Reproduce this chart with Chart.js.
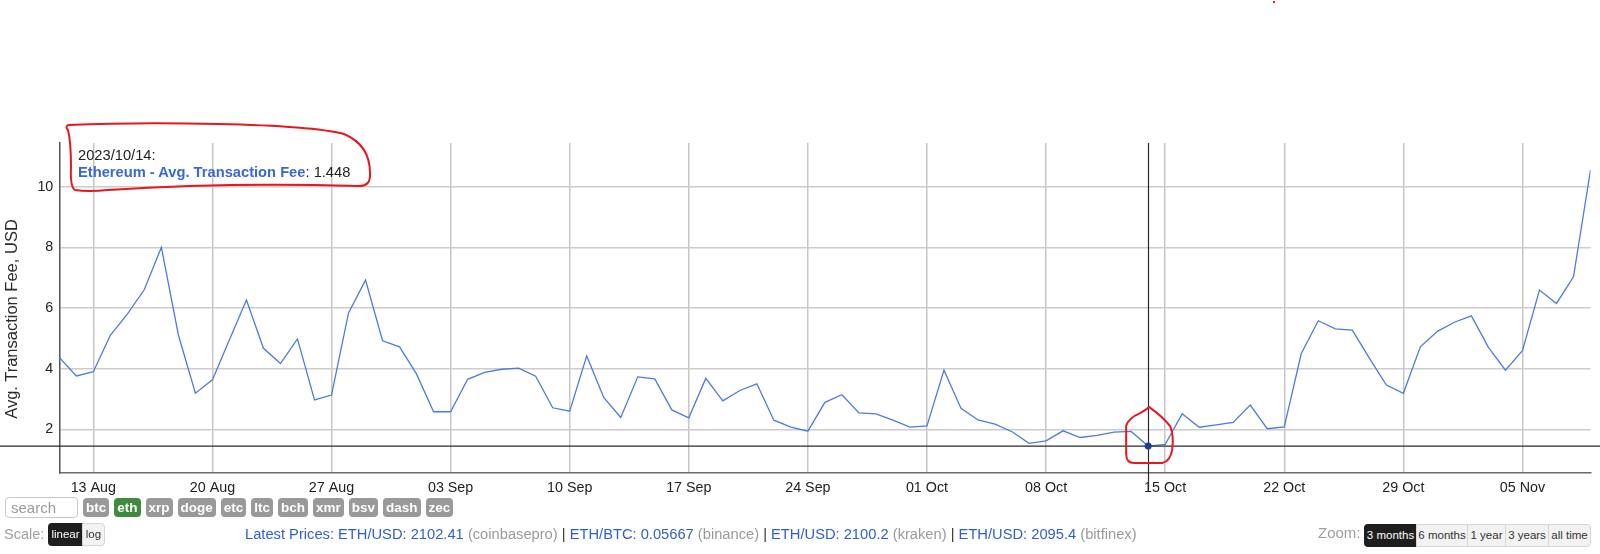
<!DOCTYPE html>
<html>
<head>
<meta charset="utf-8">
<script src="https://cdn.jsdelivr.net/npm/chart.js@4.4.0/dist/chart.umd.min.js"></script>
<style>
html,body{margin:0;padding:0;background:#fff;width:1600px;height:554px;overflow:hidden;font-family:"Liberation Sans",Arial,sans-serif;}
#c{position:absolute;left:0;top:0;}
.abs{position:absolute;white-space:nowrap;}
#legend{left:78px;top:147px;font-size:14.7px;line-height:16.6px;color:#222;}
#legend b{color:#3a68d2;}
#ytitle{left:11px;top:319px;font-size:16.5px;line-height:20px;color:#2a2a2a;transform:translate(-50%,-50%) rotate(-90deg);}
#search{left:5px;top:497px;width:73px;height:21px;box-sizing:border-box;border:1px solid #c8c8c8;border-radius:4px;font-size:15px;color:#9a9a9a;line-height:19px;padding-left:5px;}
#coins{left:83px;top:498px;display:flex;}
.coin{background:#999;color:#fff;font-weight:bold;font-size:13.5px;height:19px;line-height:19px;padding:0 3px;border-radius:4px;margin-right:5px;}
.coin.on{background:#3e8b3e;}
#scaleLbl{left:4px;top:525px;font-size:14.5px;line-height:18px;color:#a0a0a0;}
.btn{position:absolute;top:0;height:100%;font-size:11.5px;text-align:center;box-sizing:border-box;}
#scaleBtns{left:48px;top:523px;width:57px;height:23px;}
#zoomLbl{left:1318px;top:524px;font-size:15px;line-height:18px;color:#a0a0a0;}
#zoomBtns{left:1364px;top:524px;width:227px;height:23px;}
.dark{background:#1e1e1e;color:#fff;border-radius:4px;}
.light{background:#f2f2f2;color:#333;border:1px solid #d6d6d6;}
#prices{left:245px;top:525px;font-size:14.7px;line-height:18px;color:#333;}
#prices .b{color:#2f5fcf;}
#prices .g{color:#9a9a9a;}
</style>
</head>
<body>
<canvas id="c" width="1600" height="554"></canvas>
<div id="legend" class="abs"><span id="lgDate"></span>:<br><b id="lgName"></b>: <span id="lgVal"></span></div>
<div id="ytitle" class="abs"></div>
<div id="search" class="abs">search</div>
<div id="coins" class="abs"><span class="coin">btc</span><span class="coin on">eth</span><span class="coin">xrp</span><span class="coin">doge</span><span class="coin">etc</span><span class="coin">ltc</span><span class="coin">bch</span><span class="coin">xmr</span><span class="coin">bsv</span><span class="coin">dash</span><span class="coin">zec</span></div>
<div id="scaleLbl" class="abs">Scale:</div>
<div id="scaleBtns" class="abs">
  <div class="btn dark" style="left:0;width:35px;line-height:23px;border-radius:4px 0 0 4px;">linear</div>
  <div class="btn light" style="left:34px;width:23px;line-height:21px;border-radius:0 4px 4px 0;">log</div>
</div>
<div id="prices" class="abs"><span class="b">Latest Prices: ETH/USD: 2102.41</span> <span class="g">(coinbasepro)</span> | <span class="b">ETH/BTC: 0.05667</span> <span class="g">(binance)</span> | <span class="b">ETH/USD: 2100.2</span> <span class="g">(kraken)</span> | <span class="b">ETH/USD: 2095.4</span> <span class="g">(bitfinex)</span></div>
<div id="zoomLbl" class="abs">Zoom:</div>
<div id="zoomBtns" class="abs">
  <div class="btn dark" style="left:0;width:53px;line-height:23px;border-radius:4px 0 0 4px;">3 months</div>
  <div class="btn light" style="left:52px;width:52px;line-height:21px;">6 months</div>
  <div class="btn light" style="left:103px;width:39px;line-height:21px;">1 year</div>
  <div class="btn light" style="left:141px;width:44px;line-height:21px;">3 years</div>
  <div class="btn light" style="left:184px;width:43px;line-height:21px;border-radius:0 4px 4px 0;">all time</div>
</div>
<script>
// ---- data ----
const startDate = [2023, 7, 11]; // 2023-08-11 (month 0-based)
const dayCount = 91;
const feeValues = [
  4.37, 3.76, 3.90, 5.10, 5.80, 6.61, 8.00, 5.11, 3.19, 3.63,
  4.95, 6.26, 4.67, 4.17, 4.98, 2.97, 3.13, 5.84, 6.92, 4.92,
  4.72, 3.82, 2.58, 2.58, 3.65, 3.88, 3.98, 4.02, 3.75, 2.71,
  2.60, 4.42, 3.05, 2.39, 3.73, 3.66, 2.64, 2.38, 3.68, 2.94,
  3.28, 3.50, 2.30, 2.07, 1.94, 2.89, 3.14, 2.54, 2.51, 2.30,
  2.07, 2.11, 3.95, 2.69, 2.31, 2.17, 1.92, 1.54, 1.62, 1.95,
  1.73, 1.80, 1.91, 1.93, 1.448, 1.50, 2.51, 2.07, 2.15, 2.23,
  2.80, 2.02, 2.08, 4.50, 5.58, 5.31, 5.27, 4.35, 3.46, 3.19,
  4.72, 5.23, 5.53, 5.74, 4.70, 3.95, 4.59, 6.59, 6.15, 7.03,
  10.55
];
const tickDates = ['2023/08/13','2023/08/20','2023/08/27','2023/09/03','2023/09/10','2023/09/17','2023/09/24','2023/10/01','2023/10/08','2023/10/15','2023/10/22','2023/10/29','2023/11/05'];
const tickLabels = ['13 Aug','20 Aug','27 Aug','03 Sep','10 Sep','17 Sep','24 Sep','01 Oct','08 Oct','15 Oct','22 Oct','29 Oct','05 Nov'];
const yTicks = [2, 4, 6, 8, 10];
const selectedDate = '2023/10/14';
const seriesName = 'Ethereum - Avg. Transaction Fee';
const yTitle = 'Avg. Transaction Fee, USD';

// categories (dates)
const categories = [];
for (let i = 0; i < dayCount; i++) {
  const d = new Date(Date.UTC(startDate[0], startDate[1], startDate[2] + i));
  const p = n => String(n).padStart(2, '0');
  categories.push(d.getUTCFullYear() + '/' + p(d.getUTCMonth() + 1) + '/' + p(d.getUTCDate()));
}
const tickIdx = tickDates.map(d => categories.indexOf(d));
const selIdx = categories.indexOf(selectedDate);
document.getElementById('lgDate').textContent = selectedDate;
document.getElementById('lgName').textContent = seriesName;
document.getElementById('lgVal').textContent = String(feeValues[selIdx]);
document.getElementById('ytitle').textContent = yTitle;

const FONT = '"Liberation Sans", Arial, sans-serif';

const crosshair = {
  id: 'crosshair',
  afterDatasetsDraw(chart) {
    const pt = chart.getDatasetMeta(0).data[selIdx];
    const ctx = chart.ctx, ca = chart.chartArea;
    ctx.save();
    ctx.strokeStyle = '#2a2a2a';
    ctx.lineWidth = 1.2;
    ctx.beginPath();
    ctx.moveTo(0, pt.y); ctx.lineTo(chart.width, pt.y);
    ctx.moveTo(Math.round(pt.x) + 0.5, ca.top); ctx.lineTo(Math.round(pt.x) + 0.5, ca.bottom + 19);
    ctx.stroke();
    ctx.fillStyle = '#1d3c8f';
    ctx.beginPath(); ctx.arc(pt.x, pt.y, 3.5, 0, Math.PI * 2); ctx.fill();
    ctx.restore();
  }
};

const scribbles = {
  id: 'scribbles',
  afterDraw(chart) {
    const ctx = chart.ctx;
    const pt = chart.getDatasetMeta(0).data[selIdx];
    const lx = 78, ly = 147; // legend box anchor
    ctx.save();
    ctx.strokeStyle = '#e8171b';
    ctx.lineWidth = 2;
    ctx.lineJoin = 'round'; ctx.lineCap = 'round';
    // box around legend
    ctx.beginPath();
    ctx.moveTo(lx - 10, ly - 17);
    ctx.quadraticCurveTo(lx - 13, ly - 20, lx - 10, ly - 22);
    ctx.quadraticCurveTo(lx + 60, ly - 25, lx + 140, ly - 23);
    ctx.quadraticCurveTo(lx + 235, ly - 21, lx + 266, ly - 13);
    ctx.quadraticCurveTo(lx + 292, ly - 2, lx + 292, ly + 26);
    ctx.quadraticCurveTo(lx + 293, ly + 40, lx + 280, ly + 39);
    ctx.quadraticCurveTo(lx + 150, ly + 35, lx + 30, ly + 43);
    ctx.quadraticCurveTo(lx + 10, ly + 45, lx - 3, ly + 43);
    ctx.quadraticCurveTo(lx - 8, ly + 40, lx - 7, ly + 20);
    ctx.quadraticCurveTo(lx - 7, ly - 5, lx - 10, ly - 17);
    ctx.stroke();
    // circle around point
    const px = pt.x, py = pt.y;
    ctx.beginPath();
    ctx.moveTo(px + 1, py - 39);
    ctx.quadraticCurveTo(px + 14, py - 30, px + 22, py - 20);
    ctx.quadraticCurveTo(px + 26, py - 10, px + 24, py + 4);
    ctx.quadraticCurveTo(px + 22, py + 15, px + 14, py + 17);
    ctx.lineTo(px - 14, py + 17);
    ctx.quadraticCurveTo(px - 22, py + 17, px - 22, py + 8);
    ctx.lineTo(px - 22, py - 20);
    ctx.quadraticCurveTo(px - 20, py - 28, px - 8, py - 33);
    ctx.quadraticCurveTo(px - 2, py - 36, px + 1, py - 39);
    ctx.stroke();
    ctx.fillStyle = '#e8171b';
    ctx.fillRect(1273, 1, 2, 2);
    ctx.restore();
  }
};

new Chart(document.getElementById('c'), {
  type: 'line',
  data: {
    labels: categories,
    datasets: [{
      label: seriesName,
      data: feeValues.map((v, i) => ({ x: i, y: v })),
      borderColor: '#4a7ddb',
      borderWidth: 1.3,
      pointRadius: 0,
      pointHoverRadius: 0,
      tension: 0,
      fill: false
    }]
  },
  options: {
    responsive: false,
    devicePixelRatio: 1,
    animation: false,
    events: [],
    layout: { padding: { top: 143, left: 0, right: 9.5, bottom: 51 } },
    plugins: { legend: { display: false }, tooltip: { enabled: false } },
    scales: {
      x: {
        type: 'linear',
        min: 0,
        max: dayCount - 1,
        afterBuildTicks(scale) { scale.ticks = tickIdx.map(v => ({ value: v })); },
        afterFit(scale) { scale.height = 30; },
        ticks: {
          autoSkip: false,
          maxRotation: 0,
          padding: 6,
          color: '#222',
          font: { family: FONT, size: 14.3 },
          callback: (v) => { const k = tickIdx.indexOf(v); return k >= 0 ? tickLabels[k] : ''; }
        },
        grid: { color: '#c6c6c6', lineWidth: 1.5, drawTicks: false },
        border: { color: '#6a6a6a', width: 1.5 }
      },
      y: {
        type: 'linear',
        min: 0.56,
        max: 11.44,
        afterBuildTicks(scale) { scale.ticks = yTicks.map(v => ({ value: v })); },
        afterFit(scale) { scale.width = 59.3; },
        ticks: {
          padding: 6,
          color: '#222',
          font: { family: FONT, size: 14.3 },
          callback: v => String(v)
        },
        grid: { color: '#cccccc', lineWidth: 1.5, drawTicks: false },
        border: { color: '#555', width: 1.5 }
      }
    }
  },
  plugins: [crosshair, scribbles]
});
</script>
</body>
</html>
